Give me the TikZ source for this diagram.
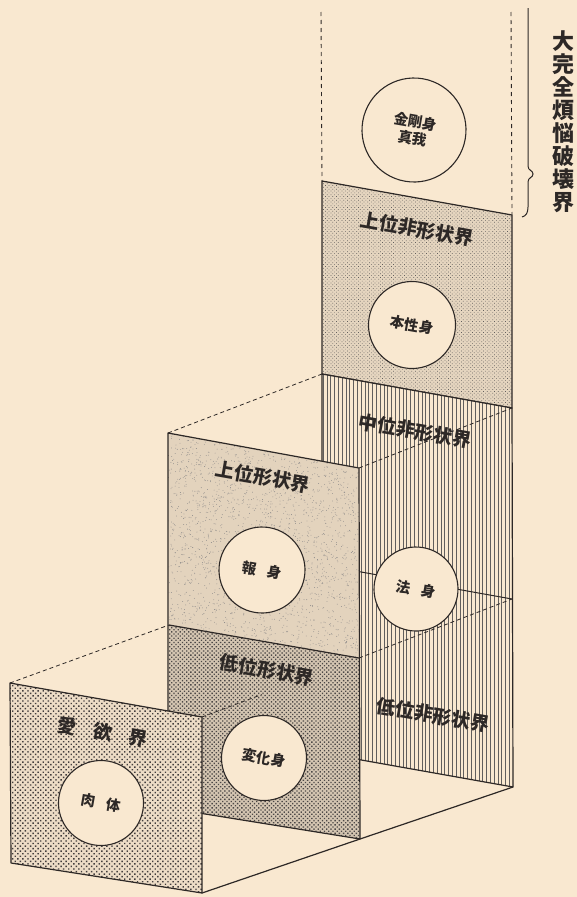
\documentclass[tikz,border=0pt]{standalone}
\usepackage{fontspec}
\newfontfamily\jp{Noto Sans CJK JP}
\usetikzlibrary{patterns.meta,calc}
\definecolor{paper}{RGB}{249,232,208}
\definecolor{ink}{RGB}{45,40,38}
\tikzset{
  edge/.style={draw=ink, line width=1.2pt, line join=round},
  hid/.style={draw=ink, line width=0.8pt, dash pattern=on 4pt off 3pt},
  guide/.style={draw=ink, line width=0.9pt, dash pattern=on 4pt off 4pt},
  body/.style={circle, draw=ink, fill=paper, line width=1.1pt, minimum size=85pt, inner sep=0pt,
    font=\jp\bfseries\fontsize{14.5}{17}\selectfont, text=ink, align=center, rotate=-10},
  title/.style={font=\jp\bfseries\fontsize{19}{20}\selectfont, text=ink, rotate=-10, inner sep=0pt},
}
\begin{document}
\begin{tikzpicture}[x=1pt,y=-1pt]
\fill[paper] (0,0) rectangle (577,897);
\useasboundingbox (0,0) rectangle (577,897);
% right column
\coordinate (G0L) at (321,12); \coordinate (G0R) at (511,12);
\coordinate (R1L) at (322,181); \coordinate (R1R) at (512,215);
\coordinate (R2L) at (322,374); \coordinate (R2R) at (512,408);
\coordinate (R3L) at (322,565); \coordinate (R3R) at (512,599);
\coordinate (R4L) at (322,753); \coordinate (R4R) at (513,787);
% middle panel
\coordinate (M1L) at (168,433); \coordinate (M1R) at (359,468);
\coordinate (M2L) at (169,625); \coordinate (M2R) at (359,658);
\coordinate (M3L) at (168,808); \coordinate (M3R) at (360,839);
% front panel
\coordinate (F1L) at (10,683); \coordinate (F1R) at (202,717);
\coordinate (F2L) at (11,863); \coordinate (F2R) at (202,893);

% guides at top
\draw[guide] (G0L) -- (R1L);
\draw[guide] (G0R) -- (R1R);
% upper non-form realm
\path[preaction={fill=paper!92!black}, pattern={Dots[radius=0.5pt,distance=2.6pt,angle=45]}, pattern color=ink!75]
  (R1L)--(R1R)--(R2R)--(R2L)--cycle;
\draw[edge] (R1L)--(R1R)--(R2R)--(R2L)--cycle;
% middle and lower non-form realms
\path[preaction={fill=paper}, pattern={Lines[angle=90,distance=3.8pt,line width=0.55pt]}, pattern color=ink!75]
  (R2L)--(R2R)--(R4R)--(R4L)--cycle;
\draw[edge] (R2L)--(R2R)--(R4R)--(R4L)--cycle;
\draw[edge, line width=1pt] (R3L)--(R3R);
% hidden receding lines
\draw[hid] (M1L)--(R2L);
\draw[hid] (M1R)--(R2R);
\draw[hid] (M2R)--(R3R);

\node[body, minimum size=104pt] (kongo) at (414,130) {金剛身\\真我};
\node[body, minimum size=87pt] (honsho) at (412,325) {本性身};
\node[body, minimum size=84pt] (hosshin) at (416,589) {法\hspace{0.7em}身};
\node[title] (t1) at (417,229) {上位非形状界};
\node[title] (t2) at (415,431) {中位非形状界};
\node[title] (t5) at (433,715) {低位非形状界};

% middle panel: upper form realm (stipple)
\begin{scope}
  \clip (M1L)--(M1R)--(M2R)--(M2L)--cycle;
  \fill[paper!91!black] (160,425) rectangle (365,665);
  \pgfmathsetseed{17}
  \foreach \i in {1,...,2600} {
    \fill[ink!55] ({166+196*rnd},{430+232*rnd}) circle[radius=0.42pt];
  }
\end{scope}
% lower form realm
\path[preaction={fill=paper!85!black}, pattern={Dots[radius=0.95pt,distance=3pt,angle=45]}, pattern color=ink!85]
  (M2L)--(M2R)--(M3R)--(M3L)--cycle;
\draw[edge] (M1L)--(M1R)--(M3R)--(M3L)--cycle;
\draw[edge] (M2L)--(M2R);
\node[body, minimum size=86pt] (hoshin) at (262,570) {報\hspace{0.7em}身};
\node[body, minimum size=85pt] (henge) at (264,758) {変化身};
\node[title] (t3) at (263,477) {上位形状界};
\node[title] (t4) at (267,670) {低位形状界};

% receding lines from front panel
\coordinate (Fh) at ($(F1R)!0.38!(M2R)$);
\draw[hid] (F1L)--(M2L);
\draw[hid] (F1R)--(Fh);
\draw[edge] (F2R)--(M3R)--(R4R);

% front panel: realm of desire
\path[preaction={fill=paper!95!black}, pattern={Dots[radius=1pt,distance=3.6pt,angle=45]}, pattern color=ink!90]
  (F1L)--(F1R)--(F2R)--(F2L)--cycle;
\draw[edge] (F1L)--(F1R)--(F2R)--(F2L)--cycle;
\node[body, minimum size=85pt] (niku) at (101,803) {肉\hspace{0.8em}体};
\node[title] (t6) at (103,732) {愛\hspace{0.9em}欲\hspace{0.9em}界};

% brace and side text
\draw[ink, line width=1pt] (528,8) -- (528,166) .. controls (528,171) and (533,170) .. (533,174)
  .. controls (533,178) and (528,177) .. (528,182) -- (528,207) .. controls (528,213) and (526,216) .. (522,217);
\node[font=\jp\bfseries\fontsize{22}{23}\selectfont, align=center, inner sep=0pt, anchor=north, text=ink] (vt)
  at (563,30) {大\\完\\全\\煩\\悩\\破\\壊\\界};
\end{tikzpicture}
\end{document}
